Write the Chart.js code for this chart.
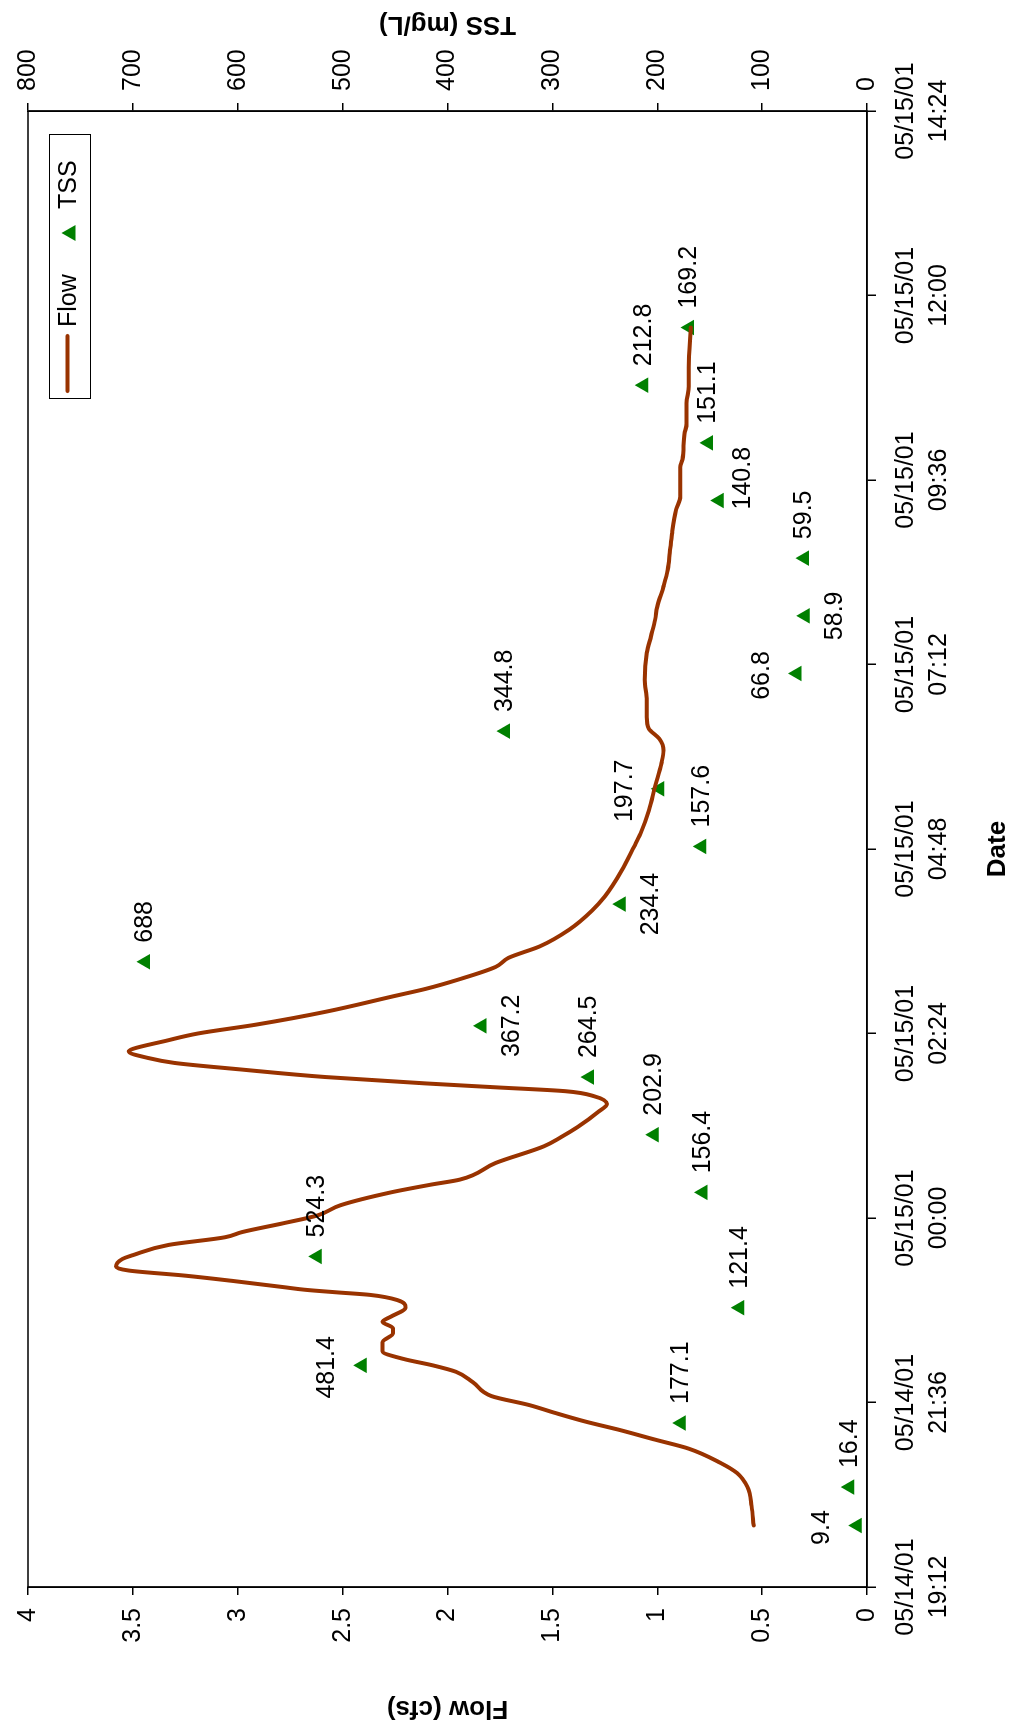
<!DOCTYPE html>
<html>
<head>
<meta charset="utf-8">
<title>Flow and TSS</title>
<script src="https://cdn.jsdelivr.net/npm/chart.js@4.4.1/dist/chart.umd.min.js"></script>
<style>
  html, body { margin: 0; padding: 0; background: #fff; overflow: hidden; }
  /* chart is drawn landscape, then turned a quarter turn to the left */
  #wrap {
    position: absolute; left: 0; top: 0;
    width: 1729px; height: 1016px;
    transform-origin: 0 0;
    transform: translateY(1729px) rotate(-90deg);
  }
</style>
</head>
<body>
<div id="wrap"><canvas id="chart" width="1729" height="1016"></canvas></div>
<script>
// Flow trace (cfs), times 05/14/01 evening into 05/15/01 morning
const flowTimes = [
    '20:00', '20:15', '20:30', '20:41', '20:49', '21:00', '21:07', '21:15', '21:21', '21:28',
    '21:34', '21:41', '21:52', '22:00', '22:05', '22:10', '22:16', '22:23', '22:30', '22:34',
    '22:39', '22:43', '22:50', '22:56', '23:00', '23:02', '23:04', '23:06', '23:11', '23:15',
    '23:19', '23:22', '23:28', '23:31', '23:39', '23:45', '23:49', '23:56', '00:02', '00:10',
    '00:20', '00:26', '00:30', '00:43', '00:56', '01:03', '01:11', '01:23', '01:29', '01:35',
    '01:39', '01:42', '01:45', '01:50', '01:56', '02:01', '02:05', '02:10', '02:12', '02:18',
    '02:24', '02:31', '02:41', '02:53', '02:59', '03:06', '03:16', '03:23', '03:32', '03:45',
    '04:00', '04:11', '04:31', '04:50', '05:00', '05:18', '05:37', '05:55', '06:05', '06:14',
    '06:22', '06:31', '06:44', '07:00', '07:21', '07:34', '07:47', '07:57', '08:13', '08:26',
    '08:39', '08:54', '09:13', '09:23', '09:46', '09:52', '10:12', '10:20', '10:36', '10:49',
    '10:57', '11:04', '11:35'
];
const flowValues = [
    0.54, 0.55, 0.57, 0.62, 0.70, 0.85, 1.01, 1.19, 1.34, 1.49,
    1.61, 1.79, 1.88, 1.96, 2.07, 2.21, 2.31, 2.31, 2.26, 2.26,
    2.31, 2.27, 2.20, 2.24, 2.37, 2.53, 2.68, 2.78, 3.03, 3.25,
    3.52, 3.58, 3.55, 3.50, 3.33, 3.06, 2.98, 2.78, 2.62, 2.51,
    2.27, 2.08, 1.94, 1.77, 1.54, 1.46, 1.38, 1.28, 1.24, 1.30,
    1.44, 1.77, 2.10, 2.58, 2.99, 3.30, 3.43, 3.52, 3.50, 3.35,
    3.19, 2.91, 2.58, 2.26, 2.10, 1.95, 1.77, 1.71, 1.56, 1.42,
    1.31, 1.25, 1.17, 1.11, 1.08, 1.04, 1.01, 0.98, 0.97, 0.99,
    1.04, 1.05, 1.05, 1.06, 1.05, 1.03, 1.01, 1.00, 0.97, 0.95,
    0.94, 0.93, 0.91, 0.89, 0.89, 0.88, 0.87, 0.86, 0.86, 0.85,
    0.85, 0.85, 0.84
];

// TSS samples (mg/L)
const tssTimes = [
    '20:00', '20:30', '21:20', '22:05', '22:50', '23:30', '00:20', '01:05', '01:50', '02:30', '03:20',
    '04:05', '04:50', '05:35', '06:20', '07:05', '07:50', '08:35', '09:20', '10:05', '10:50', '11:35'
];
const tssValues = [
    9.4, 16.4, 177.1, 481.4, 121.4, 524.3, 156.4, 202.9, 264.5, 367.2, 688,
    234.4, 157.6, 197.7, 344.8, 66.8, 58.9, 59.5, 140.8, 151.1, 212.8, 169.2
];
// where each value label sits next to its marker
const tssLabelPos = [
    'above', 'right', 'right', 'above', 'right', 'right', 'right', 'right', 'right', 'below', 'right',
    'below', 'right', 'above', 'right', 'above', 'below', 'right', 'belowRight', 'right', 'right', 'right'
];

const flowTickLabels = ['0', '0.5', '1', '1.5', '2', '2.5', '3', '3.5', '4'];
const tssTickLabels = ['0', '100', '200', '300', '400', '500', '600', '700', '800'];
const dateTickLabels = [
    '05/14/01 19:12', '05/14/01 21:36', '05/15/01 00:00', '05/15/01 02:24', '05/15/01 04:48',
    '05/15/01 07:12', '05/15/01 09:36', '05/15/01 12:00', '05/15/01 14:24'
];

const FONT = '"Liberation Sans", Arial, Helvetica, sans-serif';
const FLOW_COLOR = '#993300';
const TSS_COLOR = '#008000';

// minutes since 05/14/01 00:00; anything before noon is the next day
function toMinutes(t) {
    const [h, m] = t.split(':').map(Number);
    let mins = h * 60 + m;
    if (h < 12) mins += 24 * 60;
    return mins;
}

Chart.defaults.font.family = FONT;
Chart.defaults.font.size = 25;
Chart.defaults.color = '#000';

// Box, titles, legend and value labels
const overlayPlugin = {
    id: 'overlay',
    afterDraw(chart) {
        const { ctx, chartArea: a } = chart;
        const midX = (a.left + a.right) / 2;
        const midY = (a.top + a.bottom) / 2;
        ctx.save();

        // plot area border
        ctx.strokeStyle = '#000';
        ctx.lineWidth = 1.5;
        ctx.strokeRect(a.left, a.top, a.right - a.left, a.bottom - a.top);

        // value labels
        ctx.font = '25px ' + FONT;
        ctx.fillStyle = '#000';
        ctx.textBaseline = 'middle';
        const meta = chart.getDatasetMeta(1);
        meta.data.forEach((pt, i) => {
            const txt = String(tssValues[i]);
            const pos = tssLabelPos[i];
            if (pos === 'right') {
                ctx.textAlign = 'left';
                ctx.fillText(txt, pt.x + 19, pt.y);
            } else if (pos === 'above') {
                ctx.textAlign = 'center';
                ctx.fillText(txt, pt.x - 2, pt.y - 35);
            } else if (pos === 'belowRight') {
                ctx.textAlign = 'left';
                ctx.fillText(txt, pt.x - 9, pt.y + 24);
            } else {
                ctx.textAlign = 'center';
                ctx.fillText(txt, pt.x, pt.y + 30);
            }
        });

        // axis titles
        ctx.font = 'bold 26px ' + FONT;
        ctx.textAlign = 'center';
        ctx.fillText('Date', midX, a.bottom + 131);
        [['Flow (cfs)', a.left - 121], ['TSS (mg/L)', a.right + 87]].forEach(([t, x]) => {
            ctx.save();
            ctx.translate(x, midY);
            ctx.rotate(-Math.PI / 2);
            ctx.fillText(t, 0, 0);
            ctx.restore();
        });

        // legend
        const lx = a.right - 288, ly = a.top + 21, lw = 264, lh = 41;
        const cy = ly + lh / 2;
        ctx.lineWidth = 1;
        ctx.fillStyle = '#fff';
        ctx.fillRect(lx, ly, lw, lh);
        ctx.strokeRect(lx + 0.5, ly + 0.5, lw, lh);
        ctx.strokeStyle = FLOW_COLOR;
        ctx.lineWidth = 4;
        ctx.lineCap = 'round';
        ctx.beginPath();
        ctx.moveTo(lx + 8, cy - 2);
        ctx.lineTo(lx + 63, cy - 2);
        ctx.stroke();
        ctx.fillStyle = '#000';
        ctx.font = '25px ' + FONT;
        ctx.textAlign = 'left';
        ctx.fillText('Flow', lx + 72, cy);
        ctx.fillText('TSS', lx + 190, cy);
        ctx.fillStyle = TSS_COLOR;
        ctx.beginPath();
        ctx.moveTo(lx + 166, cy - 8);
        ctx.lineTo(lx + 174, cy + 6);
        ctx.lineTo(lx + 158, cy + 6);
        ctx.closePath();
        ctx.fill();

        ctx.restore();
    }
};

const axisLine = { color: '#000', width: 1.5 };
const tickGrid = { drawOnChartArea: false, drawTicks: true, tickLength: 8, color: '#000', lineWidth: 1.5 };

new Chart(document.getElementById('chart'), {
    type: 'line',
    data: {
        datasets: [{
            label: 'Flow',
            data: flowTimes.map((t, i) => ({ x: toMinutes(t), y: flowValues[i] })),
            yAxisID: 'y',
            borderColor: FLOW_COLOR,
            borderWidth: 4,
            pointRadius: 0,
            cubicInterpolationMode: 'monotone',
            borderCapStyle: 'round',
            borderJoinStyle: 'round'
        }, {
            label: 'TSS',
            data: tssTimes.map((t, i) => ({ x: toMinutes(t), y: tssValues[i] })),
            yAxisID: 'y2',
            showLine: false,
            pointStyle: 'triangle',
            pointRadius: 9,
            pointBackgroundColor: TSS_COLOR,
            pointBorderColor: TSS_COLOR,
            pointBorderWidth: 0
        }]
    },
    options: {
        responsive: false,
        animation: false,
        layout: { padding: { top: 23, left: 0, right: 0, bottom: 0 } },
        plugins: { legend: { display: false }, tooltip: { enabled: false } },
        scales: {
            x: {
                type: 'linear',
                position: 'bottom',
                min: 1152,
                max: 2304,
                ticks: {
                    stepSize: 144,
                    autoSkip: false,
                    maxRotation: 0,
                    padding: 14,
                    font: { size: 25, lineHeight: 1.32 },
                    callback: (v, i) => dateTickLabels[i].split(' ')
                },
                grid: { ...tickGrid, tickLength: 9 },
                border: axisLine,
                afterFit(s) { s.height = 149; }
            },
            y: {
                position: 'left',
                min: 0,
                max: 4,
                ticks: { stepSize: 0.5, padding: 13, callback: (v, i) => flowTickLabels[i] },
                grid: tickGrid,
                border: axisLine,
                afterFit(s) { s.width = 142; }
            },
            y2: {
                position: 'right',
                min: 0,
                max: 800,
                ticks: { stepSize: 100, padding: 12, callback: (v, i) => tssTickLabels[i] },
                grid: tickGrid,
                border: axisLine,
                afterFit(s) { s.width = 111; }
            }
        }
    },
    plugins: [overlayPlugin]
});
</script>
</body>
</html>
